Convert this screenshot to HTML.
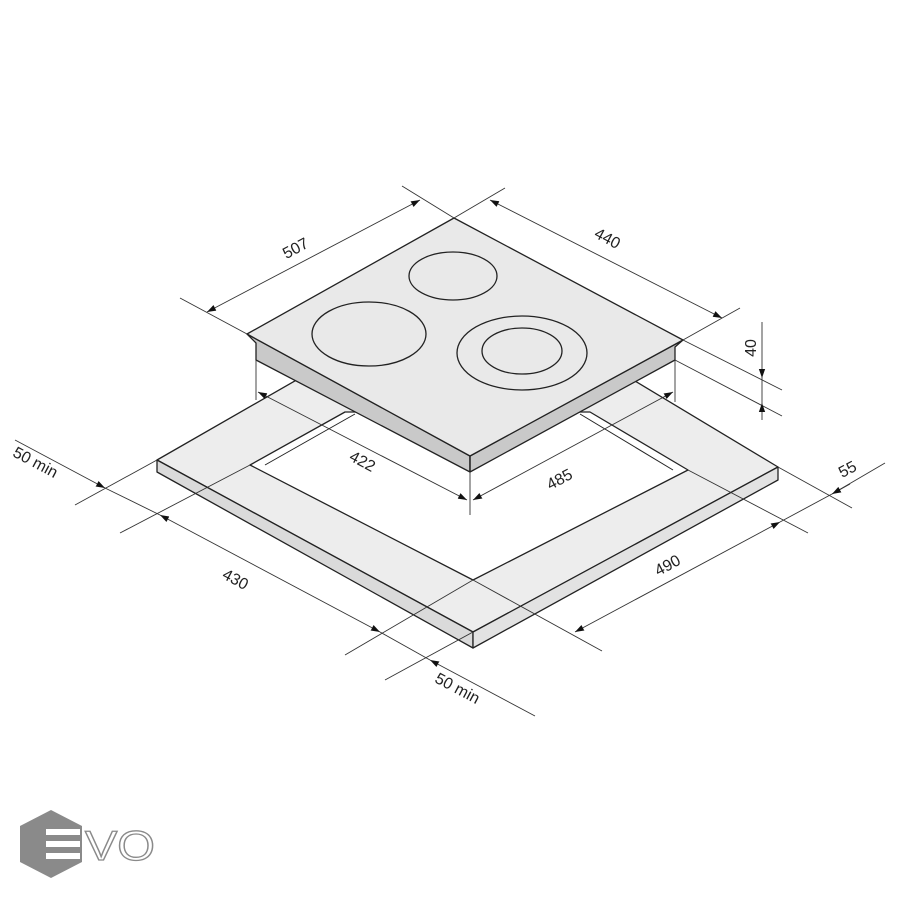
<!DOCTYPE html>
<html><head><meta charset="utf-8"><style>
html,body{margin:0;padding:0;background:#fff;}
svg{display:block}
text{font-family:"Liberation Sans",sans-serif;font-size:16px;fill:#222}
</style></head><body>
<svg width="900" height="900" viewBox="0 0 900 900" xmlns="http://www.w3.org/2000/svg">
<defs>
<marker id="a" viewBox="0 0 10 10" refX="10" refY="5" markerWidth="9" markerHeight="9" orient="auto-start-reverse" markerUnits="userSpaceOnUse"><path d="M0,1.5 L10,5 L0,8.5z" fill="#111"/></marker>
</defs>
<g stroke="#222" stroke-width="1.3" stroke-linejoin="round">
<polygon points="157,460 300,378 630,378 778,467 473,632" fill="#ededed"/>
<polygon points="157,460 473,632 473,648 157,472" fill="#dadada"/>
<polygon points="473,632 778,467 778,480 473,648" fill="#e2e2e2"/>
<polygon points="250,465 345,412 590,412 688,470 473,580" fill="#fff"/>
<line x1="265" y1="465" x2="355" y2="414" stroke-width="1"/>
<line x1="673" y1="470" x2="580" y2="414" stroke-width="1"/>
<polygon points="247,334 470,456 470,472 256,360 256,343" fill="#c9c9c9"/>
<polygon points="470,456 683,340 675,347 675,360 470,472" fill="#c9c9c9"/>
<polygon points="454,218 683,340 470,456 247,334" fill="#e9e9e9"/>
<line x1="470" y1="456" x2="470" y2="472"/>
<ellipse cx="453" cy="276" rx="44" ry="24" fill="none"/>
<ellipse cx="369" cy="334" rx="57" ry="32" fill="none"/>
<ellipse cx="522" cy="353" rx="65" ry="37" fill="none"/>
<ellipse cx="522" cy="351" rx="40" ry="23" fill="none"/>
</g>
<g stroke="#333" stroke-width="0.9" fill="none">
<line x1="247" y1="334" x2="180" y2="298"/>
<line x1="454" y1="218" x2="402" y2="186"/>
<line x1="454" y1="218" x2="505" y2="188"/>
<line x1="683" y1="340" x2="740" y2="308"/>
<line x1="683" y1="340" x2="782" y2="390"/>
<line x1="675" y1="360" x2="782" y2="416"/>
<line x1="256" y1="360" x2="256" y2="400"/>
<line x1="470" y1="472" x2="470" y2="515"/>
<line x1="675" y1="360" x2="675" y2="402"/>
<line x1="778" y1="467" x2="852" y2="508"/>
<line x1="688" y1="470" x2="808" y2="533"/>
<line x1="473" y1="580" x2="602" y2="651"/>
<line x1="157" y1="460" x2="75" y2="505"/>
<line x1="250" y1="465" x2="120" y2="533"/>
<line x1="473" y1="580" x2="345" y2="655"/>
<line x1="473" y1="632" x2="385" y2="680"/>
<line x1="207" y1="312" x2="420" y2="200" marker-start="url(#a)" marker-end="url(#a)"/>
<line x1="490" y1="200" x2="722" y2="318" marker-start="url(#a)" marker-end="url(#a)"/>
<line x1="762" y1="322" x2="762" y2="378" marker-end="url(#a)"/>
<line x1="762" y1="420" x2="762" y2="403" marker-end="url(#a)"/>
<line x1="762" y1="378" x2="762" y2="403"/>
<line x1="258" y1="392" x2="467" y2="500" marker-start="url(#a)" marker-end="url(#a)"/>
<line x1="473" y1="500" x2="673" y2="392" marker-start="url(#a)" marker-end="url(#a)"/>
<line x1="885" y1="463" x2="832" y2="494" />
<line x1="850" y1="484" x2="832" y2="494" marker-end="url(#a)"/>
<line x1="575" y1="632" x2="780" y2="522" marker-start="url(#a)" marker-end="url(#a)"/>
<line x1="780" y1="522" x2="832" y2="494"/>
<line x1="15" y1="440" x2="105" y2="488" marker-end="url(#a)"/>
<line x1="105" y1="488" x2="160" y2="515"/>
<line x1="160" y1="515" x2="380" y2="632" marker-start="url(#a)" marker-end="url(#a)"/>
<line x1="380" y1="632" x2="430" y2="660"/>
<line x1="535" y1="716" x2="430" y2="660" marker-end="url(#a)"/>
</g>
<g>
<text transform="translate(298,253) rotate(-28)" text-anchor="middle">507</text>
<text transform="translate(605,243) rotate(28)" text-anchor="middle">440</text>
<text transform="translate(756,348) rotate(-90)" text-anchor="middle">40</text>
<text transform="translate(360,466) rotate(28)" text-anchor="middle">422</text>
<text transform="translate(562,484) rotate(-28)" text-anchor="middle">485</text>
<text transform="translate(233,584) rotate(28)" text-anchor="middle">430</text>
<text transform="translate(670,570) rotate(-28)" text-anchor="middle">490</text>
<text transform="translate(850,474) rotate(-28)" text-anchor="middle">55</text>
<text transform="translate(33,467) rotate(28)" text-anchor="middle">50 min</text>
<text transform="translate(455,693) rotate(28)" text-anchor="middle">50 min</text>
</g>
<polygon points="51,810 82,826 82,862 51,878 20,862 20,826" fill="#8a8a8a"/>
<rect x="46" y="829" width="34" height="6" fill="#fff"/>
<rect x="46" y="841" width="34" height="6" fill="#fff"/>
<rect x="46" y="853" width="34" height="6" fill="#fff"/>
<text x="85" y="860" textLength="70" lengthAdjust="spacingAndGlyphs" style="font-size:42px;fill:#fff;stroke:#8a8a8a;stroke-width:1.3">VO</text>
</svg>
</body></html>
